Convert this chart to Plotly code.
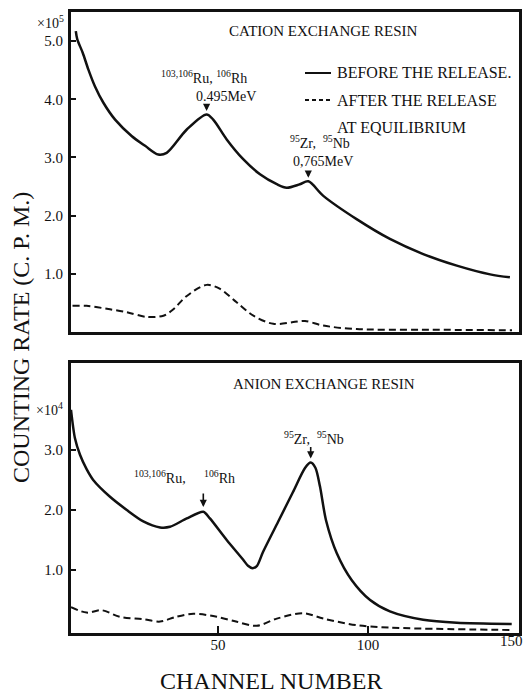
import plotly.graph_objects as go

# ---------------- data ----------------
cation_before_ch = [2.6, 3.1, 4.9, 6.8, 9.0, 11.8, 15.7, 21.2, 25.7, 30.1, 32.9, 39.6, 46.2, 48.4,
                    52.9, 58.4, 64.0, 69.6, 72.9, 77.3, 80.1, 85.1, 96.2, 107.3, 118.4, 129.6, 140.7, 147.3]
cation_before = [5.17, 5.03, 4.80, 4.51, 4.22, 3.94, 3.65, 3.37, 3.20, 3.05, 3.08, 3.48, 3.74, 3.65,
                 3.31, 2.97, 2.71, 2.54, 2.48, 2.54, 2.59, 2.34, 1.94, 1.60, 1.34, 1.14, 0.99, 0.94]

cation_after_ch = [1.5, 6.2, 14.0, 19.6, 26.2, 31.8, 35.1, 39.6, 46.2, 50.7, 56.2, 61.8, 68.4,
                   75.1, 79.0, 85.1, 96.2, 118.0, 148.0]
cation_after = [0.45, 0.45, 0.39, 0.34, 0.26, 0.28, 0.39, 0.62, 0.81, 0.74, 0.51, 0.28, 0.14,
                0.17, 0.19, 0.11, 0.05, 0.04, 0.03]

anion_before_ch = [1.0, 2.3, 4.0, 6.2, 8.4, 14.0, 19.6, 25.1, 30.7, 34.0, 39.6, 45.1, 47.3, 52.9,
                   58.4, 60.0, 61.5, 63.0, 65.0, 70.0, 75.0, 79.0, 80.9, 82.5, 84.0, 86.0, 89.6, 94.6,
                   100.7, 107.3, 118.4, 129.6, 147.9]
anion_before = [3.67, 3.20, 2.92, 2.68, 2.50, 2.22, 2.00, 1.81, 1.71, 1.72, 1.86, 1.97, 1.86, 1.50,
                1.17, 1.07, 1.03, 1.07, 1.30, 1.80, 2.30, 2.70, 2.79, 2.70, 2.39, 1.83, 1.28, 0.83,
                0.50, 0.31, 0.17, 0.12, 0.10]

anion_after_ch = [1.0, 6.2, 11.2, 17.3, 25.1, 30.7, 36.0, 41.8, 49.6, 56.0, 62.9, 69.6, 78.4,
                  85.1, 96.2, 107.0, 148.0]
anion_after = [0.38, 0.29, 0.33, 0.22, 0.18, 0.14, 0.22, 0.27, 0.22, 0.14, 0.07, 0.19, 0.28,
               0.19, 0.08, 0.04, 0.00]

x_ticks = [50, 100, 150]
x_tick_labels = ["50", "100", "150"]
cation_y_ticks = [1, 2, 3, 4, 5]
cation_y_labels = ["1.0", "2.0", "3.0", "4.0", "5.0"]
anion_y_ticks = [1, 2, 3]
anion_y_labels = ["1.0", "2.0", "3.0"]

# ---------------- layout helpers ----------------
W, H = 526, 696
def PX(x):
    return x / W
def PY(y):
    return 1 - y / H

SERIF = "Liberation Serif"
INK = "#111111"

fig = go.Figure()

solid = dict(color=INK, width=2.5, shape="spline", smoothing=0.9)
solid_b = dict(color=INK, width=2.5, shape="spline", smoothing=0.75)
dashed = dict(color=INK, width=2.0, dash="7px,4px", shape="spline", smoothing=0.9)

fig.add_trace(go.Scatter(x=cation_before_ch, y=cation_before, mode="lines", line=solid,
                         xaxis="x", yaxis="y", showlegend=False))
fig.add_trace(go.Scatter(x=cation_after_ch, y=cation_after, mode="lines", line=dashed,
                         xaxis="x", yaxis="y", showlegend=False))
fig.add_trace(go.Scatter(x=anion_before_ch, y=anion_before, mode="lines", line=solid_b,
                         xaxis="x2", yaxis="y2", showlegend=False))
fig.add_trace(go.Scatter(x=anion_after_ch, y=anion_after, mode="lines", line=dashed,
                         xaxis="x2", yaxis="y2", showlegend=False))

x_dom = [PX(71), PX(518.6)]
x_range = [1, 150.2]
axis_common = dict(showline=True, mirror=True, linewidth=3, linecolor=INK,
                   showgrid=False, zeroline=False)
tickfont = dict(family=SERIF, size=15, color=INK)

fig.update_layout(
    width=W, height=H,
    margin=dict(l=0, r=0, t=0, b=0),
    paper_bgcolor="white", plot_bgcolor="white",
    xaxis=dict(domain=x_dom, range=x_range, anchor="y", showticklabels=False,
               ticks="", **axis_common),
    yaxis=dict(domain=[PY(332), PY(12)], range=[0, 5.5], anchor="x",
               tickvals=cation_y_ticks, ticktext=cation_y_labels, ticks="inside",
               ticklen=5, tickwidth=2, tickcolor=INK, tickfont=tickfont,
               ticklabelstandoff=2, **axis_common),
    xaxis2=dict(domain=x_dom, range=x_range, anchor="y2",
                tickvals=x_ticks[:2], ticktext=x_tick_labels[:2], ticks="inside",
                ticklen=7, tickwidth=2, tickcolor=INK, tickfont=tickfont,
                ticklabelstandoff=-4, **axis_common),
    yaxis2=dict(domain=[PY(633), PY(363)], range=[-0.05, 4.45], anchor="x2",
                tickvals=anion_y_ticks, ticktext=anion_y_labels, ticks="inside",
                ticklen=5, tickwidth=2, tickcolor=INK, tickfont=tickfont,
                ticklabelstandoff=2, **axis_common),
)

ann = []
def text(x, y, s, size=13, xanchor="center", textangle=0, font=None):
    ann.append(dict(x=PX(x), y=PY(y), xref="paper", yref="paper", text=s, showarrow=False,
                    xanchor=xanchor, yanchor="middle", textangle=textangle,
                    font=font or dict(family=SERIF, size=size, color=INK)))

def arrow(xaxis, yaxis, x, y, length):
    ann.append(dict(x=x, y=y, xref=xaxis, yref=yaxis, ax=0, ay=-length, axref="pixel",
                    ayref="pixel", text="", showarrow=True, arrowhead=2, arrowsize=0.9,
                    arrowwidth=1.6, arrowcolor=INK))

# last x tick label sits against the page edge
text(525, 641, x_tick_labels[2], xanchor="right", font=tickfont)

# panel titles
text(323, 31, "CATION EXCHANGE RESIN", 15)
text(324, 384, "ANION EXCHANGE RESIN", 15)

# multipliers
text(50, 22, "×10<sup>5</sup>", 14)
text(49, 409, "×10<sup>4</sup>", 14)

# top panel peak labels
text(204, 77, "<sup>103,106</sup>Ru, <sup>106</sup>Rh", 14)
text(226, 96, "0.495MeV", 14)
arrow("x", "y", 46.2, 3.80, 8)
text(320, 142, "<sup>95</sup>Zr,  <sup>95</sup>Nb", 14)
text(323, 161, "0,765MeV", 14)
arrow("x", "y", 80.1, 2.65, 8)

# bottom panel peak labels
text(160, 477, "<sup>103,106</sup>Ru,", 14)
text(219, 477, "<sup>106</sup>Rh", 14)
arrow("x2", "y2", 45.1, 2.05, 15)
text(314, 438, "<sup>95</sup>Zr,  <sup>95</sup>Nb", 14)
arrow("x2", "y2", 80.9, 2.86, 13)

# legend text
text(335, 73, "BEFORE THE RELEASE.", 16, xanchor="left")
text(335, 100, "AFTER THE RELEASE", 16, xanchor="left")
text(335, 127, "AT EQUILIBRIUM", 16, xanchor="left")

# axis titles
text(21, 338, "COUNTING RATE (C. P. M.)", 24, textangle=-90)
text(271, 681, "CHANNEL NUMBER", 24)

fig.update_layout(annotations=ann)

fig.add_shape(type="line", xref="paper", yref="paper", x0=PX(305), x1=PX(331),
              y0=PY(73), y1=PY(73), line=dict(color=INK, width=2))
fig.add_shape(type="line", xref="paper", yref="paper", x0=PX(305), x1=PX(331),
              y0=PY(100), y1=PY(100), line=dict(color=INK, width=2, dash="4px,3px"))

fig.write_html("out.html")
